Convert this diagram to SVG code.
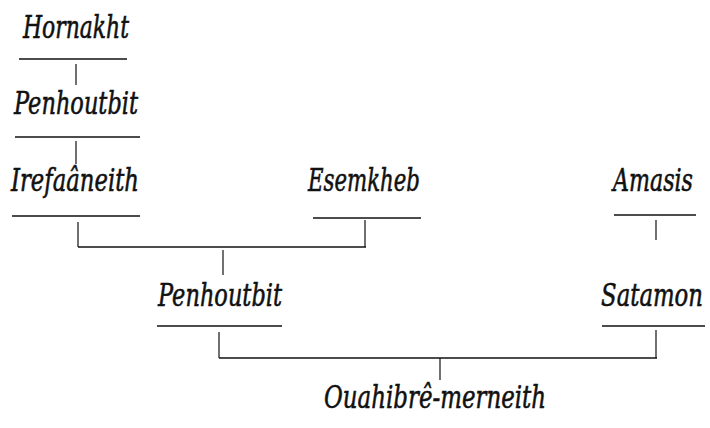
<svg xmlns="http://www.w3.org/2000/svg" width="710" height="428" viewBox="0 0 710 428">
<style>
.t{font-family:'DejaVu Serif',serif;font-style:italic;font-size:31px;fill:#111;stroke:#111;stroke-width:0.6;text-anchor:middle}
line{stroke:#111;stroke-width:1.6;fill:none}
.v{stroke-width:1.2}
</style>
<rect width="710" height="428" fill="#fff"/>
<g id="hornakht"><text class="t" x="76" y="38" textLength="106" lengthAdjust="spacingAndGlyphs">Hornakht</text><line x1="19" y1="59" x2="127" y2="59"/></g>
<g id="penhoutbit1"><text class="t" x="76" y="114" textLength="124" lengthAdjust="spacingAndGlyphs">Penhoutbit</text><line x1="15" y1="137" x2="140" y2="137"/></g>
<g id="irefaaneith"><text class="t" x="75" y="191" textLength="128" lengthAdjust="spacingAndGlyphs">Irefaâneith</text><line x1="12" y1="216" x2="140" y2="216"/></g>
<g id="esemkheb"><text class="t" x="364" y="191" textLength="112" lengthAdjust="spacingAndGlyphs">Esemkheb</text><line x1="313" y1="218" x2="421" y2="218"/></g>
<g id="amasis"><text class="t" transform="translate(653,191) scale(0.72,1)" x="0" y="0" textLength="111" lengthAdjust="spacingAndGlyphs">Amasis</text><line x1="614" y1="215" x2="696" y2="215"/></g>
<g id="penhoutbit2"><text class="t" x="220" y="306" textLength="124" lengthAdjust="spacingAndGlyphs">Penhoutbit</text><line x1="157" y1="326" x2="282" y2="326"/></g>
<g id="satamon"><text class="t" transform="translate(652,306) scale(0.75,1)" x="0" y="0" textLength="136" lengthAdjust="spacingAndGlyphs">Satamon</text><line x1="602" y1="326" x2="705" y2="326"/></g>
<g id="ouahibre"><text class="t" x="435" y="408" textLength="222" lengthAdjust="spacingAndGlyphs">Ouahibrê-merneith</text></g>
<g id="connectors">
<line class="v" x1="76" y1="64" x2="76" y2="85"/>
<line class="v" x1="76" y1="141" x2="76" y2="164"/>
<line class="v" x1="78" y1="222" x2="78" y2="247"/>
<line class="v" x1="365" y1="220" x2="365" y2="247"/>
<line x1="78" y1="247" x2="366" y2="247"/>
<line class="v" x1="223" y1="250" x2="223" y2="275"/>
<line class="v" x1="656" y1="220" x2="656" y2="240"/>
<line class="v" x1="219" y1="332" x2="219" y2="358"/>
<line class="v" x1="656" y1="330" x2="656" y2="358"/>
<line x1="219" y1="358" x2="657" y2="358"/>
<line class="v" x1="440" y1="358" x2="440" y2="380"/>
</g>
</svg>
